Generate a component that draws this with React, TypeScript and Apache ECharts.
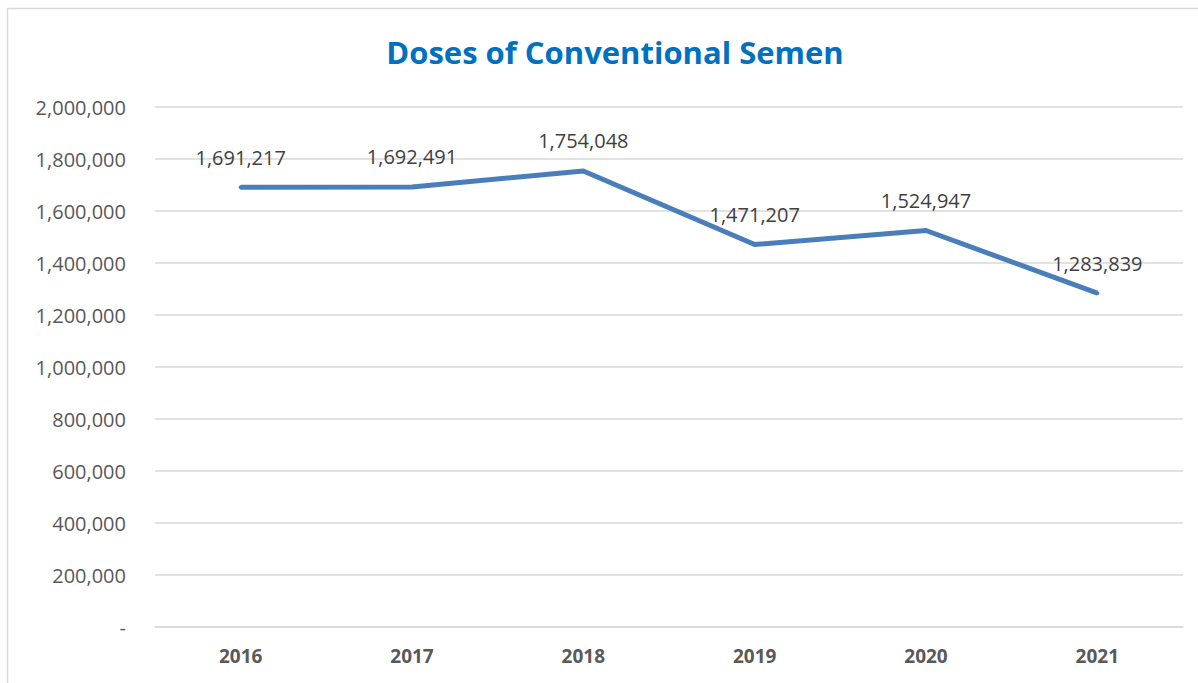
import React, { useEffect, useRef } from "react";
import * as echarts from "echarts";

const categories = ["2016", "2017", "2018", "2019", "2020", "2021"];
const doses = [1691217, 1692491, 1754048, 1471207, 1524947, 1283839];
const yTicks = [0, 200000, 400000, 600000, 800000, 1000000, 1200000, 1400000, 1600000, 1800000, 2000000];

const fmt = (v: number) => (v === 0 ? "-" : v.toLocaleString("en-US"));

export default function App() {
  const ref = useRef<HTMLDivElement>(null);
  useEffect(() => {
    if (!ref.current) return;
    const chart = echarts.init(ref.current, null, { renderer: "svg" });
    chart.setOption({
      animation: false,
      backgroundColor: "#ffffff",
      textStyle: { fontFamily: "Open Sans" },
      title: {
        text: "Doses of Conventional Semen",
        left: 610,
        top: 31,
        textAlign: "center",
        textStyle: { color: "#0070C0", fontSize: 31, fontWeight: "bold", fontFamily: "Open Sans" },
      },
      graphic: [
        {
          type: "rect",
          shape: { x: 7.5, y: 8.5, width: 1200, height: 690 },
          style: { fill: "none", stroke: "#d9d9d9", lineWidth: 1.5 },
          silent: true,
        },
      ],
      grid: { left: 155, right: 15, top: 107, bottom: 56, containLabel: false },
      xAxis: {
        type: "category",
        data: categories,
        axisLine: { show: true, lineStyle: { color: "#d9d9d9", width: 1.5 } },
        axisTick: { show: false },
        axisLabel: { color: "#595959", fontSize: 19, fontWeight: "bold", margin: 19 },
      },
      yAxis: {
        type: "value",
        min: yTicks[0],
        max: yTicks[yTicks.length - 1],
        interval: 200000,
        axisLine: { show: false },
        axisTick: { show: false },
        splitLine: { lineStyle: { color: "#d9d9d9", width: 1.5 } },
        axisLabel: { color: "#595959", fontSize: 20, margin: 29, formatter: (v: number) => fmt(v) },
      },
      series: [
        {
          type: "line",
          data: doses,
          symbol: "circle",
          symbolSize: 4,
          showSymbol: true,
          itemStyle: { color: "#4a7ebb" },
          lineStyle: { color: "#4a7ebb", width: 5 },
          label: {
            show: true,
            position: "top",
            distance: 18,
            color: "#404040",
            fontSize: 20,
            formatter: (p: any) => fmt(p.value),
          },
        },
      ],
    });
    return () => chart.dispose();
  }, []);
  return (
    <div
      ref={ref}
      style={{ position: "fixed", left: 0, top: 0, width: 1198, height: 683 }}
    />
  );
}
